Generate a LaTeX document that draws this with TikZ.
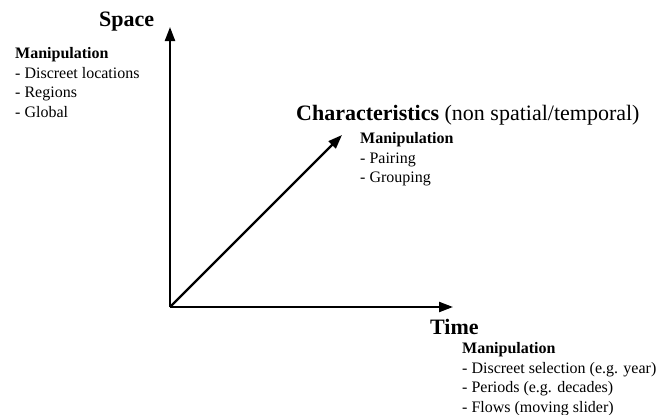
\documentclass[tikz,border=0pt]{standalone}
\usepackage{fontspec}
\setmainfont{Liberation Serif}
\usetikzlibrary{arrows.meta}
\tikzset{
	axis/.style={line width=0.8mm, -{Triangle[length=14pt,width=10pt]}},
	heading/.style={anchor=base west, inner sep=0pt, font=\fontsize{22}{25}\selectfont},
	manip/.style={anchor=north west, inner sep=0pt, align=left, font=\fontsize{16}{19.7}\selectfont}
}

\begin{document}
\begin{tikzpicture}[x=1pt, y=-1pt]
		%%%%% START %%%%%
		
		\useasboundingbox (0, 0) rectangle (670, 415);
		
		\coordinate (origin) at (170, 307);
		\coordinate (spacetip) at (170, 27);
		\coordinate (timetip) at (453, 307);
		\coordinate (chartip) at (342, 135);
		
		\draw[axis] (origin) -- (spacetip);
		\draw[axis] (origin) -- (timetip);
		\draw[axis] (origin) -- (chartip);
		
		\node[heading] (space) at (99, 27) {\textbf{Space}};
		\node[manip] (spacemanip) at (15, 47) {\textbf{Manipulation}\\- Discreet locations\\- Regions\\- Global};
		
		\node[heading] (char) at (296, 120) {\textbf{Characteristics} (non spatial/temporal)};
		\node[manip] (charmanip) at (360, 132) {\textbf{Manipulation}\\- Pairing\\- Grouping};
		
		\node[heading] (time) at (430, 334) {\textbf{Time}};
		\node[manip] (timemanip) at (462, 342) {\textbf{Manipulation}\\- Discreet selection (e.g. year)\\- Periods (e.g. decades)\\- Flows (moving slider)};
		
		%%%%% END %%%%%
	\end{tikzpicture}
\end{document}
